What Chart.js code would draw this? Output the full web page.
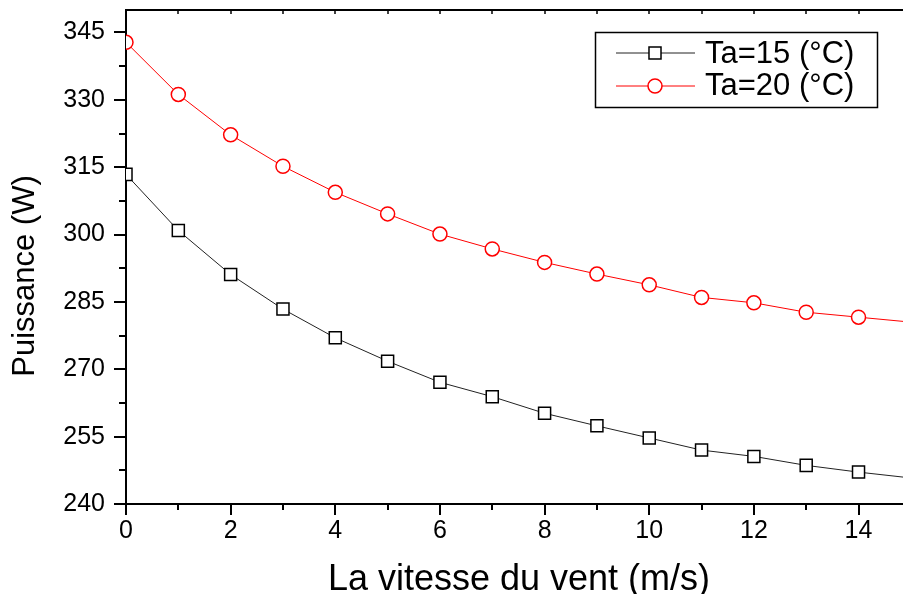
<!DOCTYPE html>
<html>
<head>
<meta charset="utf-8">
<script src="https://cdn.jsdelivr.net/npm/chart.js@4.4.0/dist/chart.umd.min.js"></script>
<style>
html,body{margin:0;padding:0;background:#fff;}
canvas{display:block;}
</style>
</head>
<body>
<canvas id="c" width="903" height="594"></canvas>
<script>
// ---- data ----
const windSpeed = [0, 1, 2, 3, 4, 5, 6, 7, 8, 9, 10, 11, 12, 13, 14, 15];
const ta15 = [313.4, 300.9, 291.1, 283.4, 277.0, 271.8, 267.1, 263.9, 260.2, 257.4, 254.7, 252.0, 250.6, 248.6, 247.1, 245.8];
const ta20 = [342.8, 331.2, 322.2, 315.2, 309.4, 304.6, 300.1, 296.8, 293.8, 291.2, 288.8, 286.0, 284.8, 282.7, 281.6, 280.5];
const seriesLabels = ['Ta=15 (°C)', 'Ta=20 (°C)'];
const xTicks = [0, 2, 4, 6, 8, 10, 12, 14];
const xMinorTicks = [1, 3, 5, 7, 9, 11, 13];
const yTicks = [240, 255, 270, 285, 300, 315, 330, 345];
const yMinorTicks = [247.5, 262.5, 277.5, 292.5, 307.5, 322.5, 337.5];
const xTitle = 'La vitesse du vent (m/s)';
const yTitle = 'Puissance (W)';

const FONT = "'Liberation Sans', Arial, sans-serif";

function pts(arr){ return windSpeed.map((x,i)=>({x:x, y:arr[i]})); }

const decorPlugin = {
  id: 'decor',
  afterDraw(chart){
    const ctx = chart.ctx;
    const xs = chart.scales.x, ys = chart.scales.y;
    const a = chart.chartArea;
    ctx.save();
    ctx.strokeStyle = '#000';
    ctx.fillStyle = '#000';
    // top axis line
    ctx.lineWidth = 2;
    ctx.beginPath(); ctx.moveTo(a.left - 1, a.top); ctx.lineTo(a.right, a.top); ctx.stroke();
    // left ticks
    ctx.lineWidth = 2;
    yTicks.forEach(v=>{ const y = Math.round(ys.getPixelForValue(v)); ctx.beginPath(); ctx.moveTo(a.left-12, y); ctx.lineTo(a.left, y); ctx.stroke(); });
    yMinorTicks.forEach(v=>{ const y = Math.round(ys.getPixelForValue(v)); ctx.beginPath(); ctx.moveTo(a.left-7, y); ctx.lineTo(a.left, y); ctx.stroke(); });
    // bottom ticks
    xTicks.forEach(v=>{ const x = Math.round(xs.getPixelForValue(v)); ctx.beginPath(); ctx.moveTo(x, a.bottom); ctx.lineTo(x, a.bottom+11); ctx.stroke(); });
    xMinorTicks.forEach(v=>{ const x = Math.round(xs.getPixelForValue(v)); ctx.beginPath(); ctx.moveTo(x, a.bottom); ctx.lineTo(x, a.bottom+6); ctx.stroke(); });
    // top inward ticks
    ctx.lineWidth = 1.5;
    xTicks.concat(xMinorTicks).forEach(v=>{ const x = Math.round(xs.getPixelForValue(v)); ctx.beginPath(); ctx.moveTo(x, a.top); ctx.lineTo(x, a.top+4); ctx.stroke(); });

    // axis titles
    ctx.fillStyle = '#000';
    ctx.font = '36px ' + FONT;
    ctx.textAlign = 'center';
    ctx.textBaseline = 'alphabetic';
    ctx.fillText(xTitle, 519, 590);
    ctx.save();
    ctx.translate(34, 276);
    ctx.rotate(-Math.PI/2);
    ctx.font = '31px ' + FONT;
    ctx.fillText(yTitle, 0, 0);
    ctx.restore();

    // legend
    ctx.lineWidth = 1.5;
    ctx.strokeStyle = '#000';
    ctx.strokeRect(595.5, 32.5, 282, 75);
    const rows = [53, 86];
    const baselines = [63, 95];
    chart.data.datasets.forEach((ds, i)=>{
      const y = rows[i];
      ctx.lineWidth = 1;
      ctx.strokeStyle = ds.borderColor;
      ctx.beginPath(); ctx.moveTo(616, y); ctx.lineTo(695, y); ctx.stroke();
      ctx.lineWidth = 1.5;
      ctx.strokeStyle = ds.pointBorderColor;
      ctx.fillStyle = '#fff';
      if (ds.pointStyle === 'rect') {
        const s = ds.pointRadius * Math.SQRT1_2;
        ctx.beginPath(); ctx.rect(655 - s, y - s, 2*s, 2*s); ctx.fill(); ctx.stroke();
      } else {
        ctx.beginPath(); ctx.arc(655, y, ds.pointRadius, 0, Math.PI*2); ctx.fill(); ctx.stroke();
      }
      ctx.fillStyle = '#000';
      ctx.font = '31px ' + FONT;
      ctx.textAlign = 'left';
      ctx.textBaseline = 'alphabetic';
      ctx.fillText(ds.label, 705, baselines[i]);
    });
    ctx.restore();
  }
};

function noPad(scale){ scale.paddingTop = 0; scale.paddingBottom = 0; scale.paddingLeft = 0; scale.paddingRight = 0; }

new Chart(document.getElementById('c'), {
  type: 'line',
  data: {
    datasets: [
      {
        label: seriesLabels[0],
        data: pts(ta15),
        borderColor: '#222222',
        borderWidth: 1,
        pointStyle: 'rect',
        pointRadius: 8.5,
        pointBorderColor: '#000000',
        pointBackgroundColor: '#ffffff',
        pointBorderWidth: 1.5,
        tension: 0
      },
      {
        label: seriesLabels[1],
        data: pts(ta20),
        borderColor: '#ff0000',
        borderWidth: 1,
        pointStyle: 'circle',
        pointRadius: 7,
        pointBorderColor: '#ff0000',
        pointBackgroundColor: '#ffffff',
        pointBorderWidth: 1.5,
        tension: 0
      }
    ]
  },
  options: {
    responsive: false,
    animation: false,
    layout: { autoPadding: false, padding: { top: 10, right: 0, left: 0, bottom: 0 } },
    plugins: { legend: { display: false }, tooltip: { enabled: false } },
    scales: {
      x: {
        type: 'linear',
        min: 0,
        max: 14.85,
        afterBuildTicks: (scale) => { scale.ticks = xTicks.map(v => ({ value: v })); },
        afterFit: (scale) => { scale.height = 90; noPad(scale); },
        grid: { display: true, drawOnChartArea: false, drawTicks: false },
        border: { display: true, color: '#000', width: 2 },
        ticks: { color: '#000', font: { size: 25, family: FONT }, padding: 12, maxRotation: 0 },
        title: { display: false }
      },
      y: {
        type: 'linear',
        min: 240,
        max: 350,
        afterBuildTicks: (scale) => { scale.ticks = yTicks.map(v => ({ value: v })); },
        afterFit: (scale) => { scale.width = 126; noPad(scale); },
        grid: { display: true, drawOnChartArea: false, drawTicks: false },
        border: { display: true, color: '#000', width: 2 },
        ticks: { color: '#000', font: { size: 25, family: FONT }, padding: 21 },
        title: { display: false }
      }
    }
  },
  plugins: [decorPlugin]
});
</script>
</body>
</html>
